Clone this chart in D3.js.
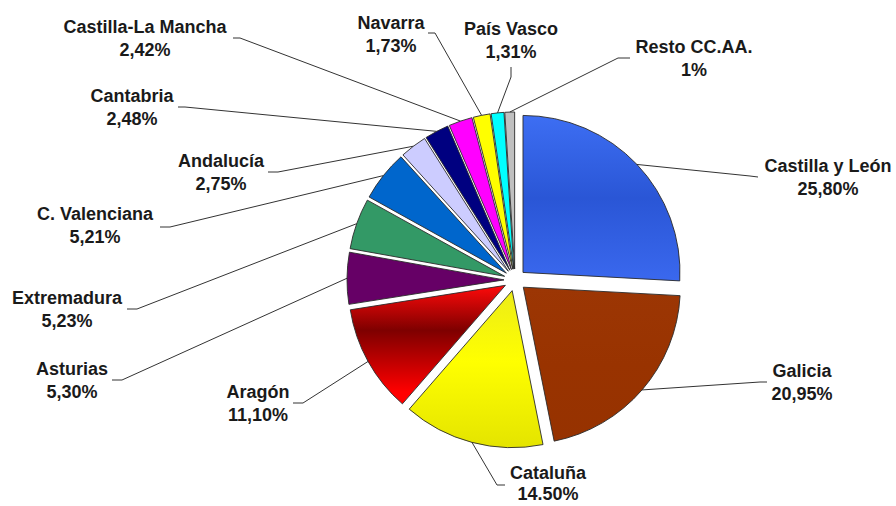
<!DOCTYPE html>
<html>
<head>
<meta charset="utf-8">
<script src="https://cdn.jsdelivr.net/npm/d3@7"></script>
<style>
  html, body { margin: 0; padding: 0; background: #ffffff; }
  svg { display: block; }
</style>
</head>
<body>
<svg id="chart" width="896" height="506"></svg>
<script>
// ---- data ----
const regions = ["Castilla y León", "Galicia", "Cataluña", "Aragón", "Asturias", "Extremadura",
                 "C. Valenciana", "Andalucía", "Cantabria", "Castilla-La Mancha", "Navarra",
                 "País Vasco", "Resto CC.AA."];
const shares = [25.80, 20.95, 14.50, 11.10, 5.30, 5.23, 5.21, 2.75, 2.48, 2.42, 1.73, 1.31, 1];
const shareLabels = ["25,80%", "20,95%", "14.50%", "11,10%", "5,30%", "5,23%", "5,21%",
                     "2,75%", "2,48%", "2,42%", "1,73%", "1,31%", "1%"];

// ---- styles ----
const fills = [
  ["#3d6ef3", "#2a56d6", "#3a68ee"],
  ["#9c3604", "#993300", "#963200"],
  ["#ecec18", "#ffff00", "#e4e400"],
  ["#ff0a0a", "#7e0000", "#ff0000"],
  ["#660066"], ["#339966"], ["#0066cc"], ["#ccccff"], ["#000080"],
  ["#ff00ff"], ["#ffff00"], ["#00ffff"], ["#c0c0c0"]
];
const gradStops = [[0, 0.5, 1], [0, 0.5, 1], [0, 0.45, 1], [0, 0.38, 0.9]];

// ---- layout (label anchor: text centre x, first baseline y, line gap; leader end + elbow) ----
const labelLayout = [
  {x: 828, y: 172, gap: 23, end: [758, 177], elbow: [750, 176]},
  {x: 802, y: 377, gap: 23, end: [767, 382], elbow: [760, 382]},
  {x: 548, y: 479, gap: 21, end: [505, 485], elbow: [497, 485]},
  {x: 258, y: 398, gap: 23, end: [293, 403], elbow: [303, 403]},
  {x: 72,  y: 375, gap: 23, end: [112, 380], elbow: [122, 380]},
  {x: 67,  y: 304, gap: 23, end: [127, 309], elbow: [137, 309]},
  {x: 95,  y: 220, gap: 23, end: [160, 227], elbow: [170, 227]},
  {x: 221, y: 167, gap: 23, end: [268, 172], elbow: [278, 172]},
  {x: 132, y: 102, gap: 23, end: [178, 107], elbow: [185, 107]},
  {x: 145, y: 33,  gap: 23, end: [233, 38],  elbow: [240, 38]},
  {x: 391, y: 29,  gap: 23, end: [428, 33],  elbow: [435, 33]},
  {x: 511, y: 35,  gap: 23, end: [511, 67],  elbow: [511, 77]},
  {x: 694, y: 53,  gap: 23, end: [630, 58],  elbow: [618, 58]}
];

const cx = 515, cy = 280, radius = 157, explode = 11;

const svg = d3.select("#chart");
svg.append("rect").attr("width", 896).attr("height", 506).attr("fill", "#ffffff");

const defs = svg.append("defs");
fills.forEach((f, i) => {
  if (f.length > 1) {
    const g = defs.append("linearGradient")
      .attr("id", "grad" + i)
      .attr("x1", 0).attr("y1", 0).attr("x2", 0).attr("y2", 1);
    f.forEach((c, k) => {
      g.append("stop").attr("offset", gradStops[i][k]).attr("stop-color", c);
    });
  }
});
const fillOf = i => fills[i].length > 1 ? "url(#grad" + i + ")" : fills[i][0];

const pie = d3.pie().sort(null).value(d => d);
const arcs = pie(shares);
const arc = d3.arc().innerRadius(0).outerRadius(radius);

const offsetOf = a => {
  const m = (a.startAngle + a.endAngle) / 2;
  return [explode * Math.sin(m), -explode * Math.cos(m)];
};

const g = svg.append("g").attr("transform", `translate(${cx},${cy})`);
g.selectAll("path.slice")
  .data(arcs)
  .enter().append("path")
  .attr("class", "slice")
  .attr("transform", d => { const o = offsetOf(d); return `translate(${o[0]},${o[1]})`; })
  .attr("d", arc)
  .attr("fill", (d, i) => fillOf(i))
  .attr("stroke", "#2a2a2a")
  .attr("stroke-width", 0.9)
  .attr("stroke-linejoin", "round");

// leader lines
const line = d3.line();
svg.append("g").selectAll("path.leader")
  .data(arcs)
  .enter().append("path")
  .attr("class", "leader")
  .attr("d", (d, i) => {
    const m = (d.startAngle + d.endAngle) / 2;
    const o = offsetOf(d);
    const px = cx + o[0] + radius * Math.sin(m);
    const py = cy + o[1] - radius * Math.cos(m);
    const L = labelLayout[i];
    return line([L.end, L.elbow, [px, py]]);
  })
  .attr("fill", "none")
  .attr("stroke", "#333333")
  .attr("stroke-width", 1);

// labels
const labels = svg.append("g")
  .attr("font-family", "'Liberation Sans', Arial, Helvetica, sans-serif")
  .attr("font-weight", "bold")
  .attr("font-size", 18)
  .attr("fill", "#1a1a1a")
  .attr("text-anchor", "middle");

regions.forEach((r, i) => {
  const L = labelLayout[i];
  const t = labels.append("text").attr("x", L.x).attr("y", L.y);
  t.append("tspan").attr("x", L.x).text(r);
  t.append("tspan").attr("x", L.x).attr("dy", L.gap).text(shareLabels[i]);
});
</script>
</body>
</html>
